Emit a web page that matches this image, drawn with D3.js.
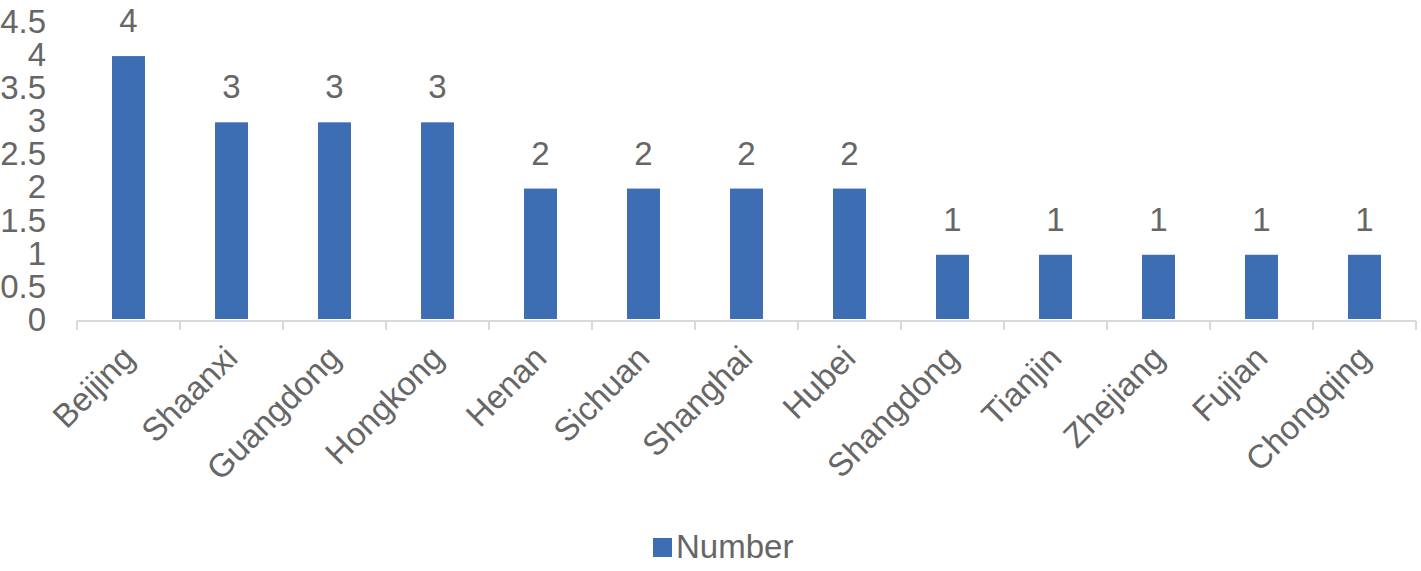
<!DOCTYPE html>
<html>
<head>
<meta charset="utf-8">
<script src="https://cdn.jsdelivr.net/npm/d3@7"></script>
<style>
  body { margin: 0; background: #fff; }
  text { font-family: "Liberation Sans", Arial, sans-serif; }
</style>
</head>
<body>
<div id="chart"></div>
<script>
// data
let provinces = ["Beijing", "Shaanxi", "Guangdong", "Hongkong", "Henan", "Sichuan", "Shanghai", "Hubei", "Shangdong", "Tianjin", "Zhejiang", "Fujian", "Chongqing"]
let numbers = [4, 3, 3, 3, 2, 2, 2, 2, 1, 1, 1, 1, 1]
let yTicks = [0, 0.5, 1, 1.5, 2, 2.5, 3, 3.5, 4, 4.5]
let seriesName = "Number"

let width = 1421, height = 571
let margin = {top: 23, right: 5, bottom: 250, left: 77}
let barColor = "#3d6db3"
let textColor = "#666666"
let axisColor = "#d9d9d9"
let fontSize = 33

let svg = d3.select("#chart").append("svg")
    .attr("width", width)
    .attr("height", height)

let x = d3.scaleBand()
    .domain(provinces)
    .range([margin.left, 1416])
    .paddingInner(0.68)
    .paddingOuter(0.34)

let y = d3.scaleLinear()
    .domain([0, 4.5])
    .range([321, margin.top])

// y labels (no axis line)
svg.append("g").selectAll("text")
    .data(yTicks)
    .enter()
    .append("text")
    .attr("x", 46)
    .attr("y", d => y(d))
    .attr("dy", "0.3em")
    .attr("text-anchor", "end")
    .attr("font-size", fontSize)
    .attr("fill", textColor)
    .text(d => d)

// bars
svg.append("g").selectAll("rect")
    .data(numbers)
    .enter()
    .append("rect")
    .attr("x", (d, i) => x(provinces[i]))
    .attr("y", d => y(d))
    .attr("width", x.bandwidth())
    .attr("height", d => y(0) - y(d) - 2)
    .attr("fill", barColor)

// value labels
svg.append("g").selectAll("text")
    .data(numbers)
    .enter()
    .append("text")
    .attr("x", (d, i) => x(provinces[i]) + x.bandwidth() / 2)
    .attr("y", d => y(d) - 24)
    .attr("text-anchor", "middle")
    .attr("font-size", fontSize)
    .attr("fill", textColor)
    .text(d => d)

// x axis line and ticks between categories
let step = x.step()
let xAxis = svg.append("g")
xAxis.append("line")
    .attr("x1", margin.left).attr("x2", 1416)
    .attr("y1", y(0)).attr("y2", y(0))
    .attr("stroke", axisColor).attr("stroke-width", 2)
xAxis.selectAll(".tick")
    .data(d3.range(provinces.length + 1))
    .enter()
    .append("line")
    .attr("class", "tick")
    .attr("x1", i => margin.left + i * step)
    .attr("x2", i => margin.left + i * step)
    .attr("y1", y(0))
    .attr("y2", y(0) + 9)
    .attr("stroke", axisColor).attr("stroke-width", 2)

// rotated category labels
svg.append("g").selectAll("text")
    .data(provinces)
    .enter()
    .append("text")
    .attr("transform", d => `translate(${x(d) + x.bandwidth() / 2 + 8}, 360) rotate(-45)`)
    .attr("text-anchor", "end")
    .attr("font-size", fontSize)
    .attr("fill", textColor)
    .text(d => d)

// legend
let legend = svg.append("g")
legend.append("rect")
    .attr("x", 653).attr("y", 538)
    .attr("width", 19).attr("height", 19)
    .attr("fill", barColor)
legend.append("text")
    .attr("x", 676).attr("y", 558)
    .attr("font-size", fontSize)
    .attr("fill", textColor)
    .text(seriesName)
</script>
</body>
</html>
